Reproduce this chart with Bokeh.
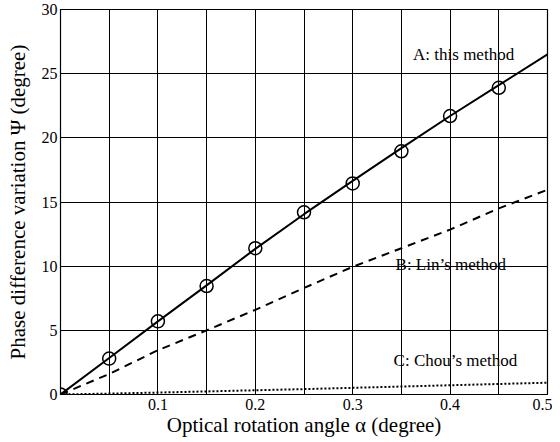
from bokeh.plotting import figure
from bokeh.models import Range1d, FixedTicker, Label
from bokeh.embed import file_html
from bokeh.resources import INLINE

# data
alpha_pts = [0.0, 0.05, 0.1, 0.15, 0.2, 0.25, 0.3, 0.35, 0.4, 0.45]
psi_a_pts = [0.0, 2.8, 5.7, 8.45, 11.4, 14.2, 16.45, 18.95, 21.7, 23.9]

alpha_line = [0.0, 0.05, 0.1, 0.15, 0.2, 0.25, 0.3, 0.35, 0.4, 0.45, 0.5]
psi_a_line = [0.0, 2.85, 5.7, 8.5, 11.35, 14.05, 16.65, 19.2, 21.7, 24.1, 26.5]
psi_b_line = [0.0, 1.6, 3.45, 5.0, 6.6, 8.3, 9.95, 11.4, 12.85, 14.5, 15.95]
psi_c_line = [0.0, 0.07, 0.15, 0.24, 0.33, 0.42, 0.52, 0.62, 0.72, 0.82, 0.92]

x_ticks = [0.1, 0.2, 0.3, 0.4, 0.5]
x_grid = [0.05, 0.1, 0.15, 0.2, 0.25, 0.3, 0.35, 0.4, 0.45]
y_ticks = [0, 5, 10, 15, 20, 25, 30]

label_a = "A: this method"
label_b = "B: Lin\u2019s method"
label_c = "C: Chou\u2019s method"

FONT = "Liberation Serif"

p = figure(width=552, height=440, output_backend="svg", toolbar_location=None,
           x_range=Range1d(0, 0.5), y_range=Range1d(0, 30))
p.min_border_left = 60
p.min_border_right = 5
p.min_border_top = 9
p.min_border_bottom = 46

p.outline_line_color = "black"
p.outline_line_width = 1.2

for ax in (p.xaxis[0], p.yaxis[0]):
    ax.major_label_text_font = FONT
    ax.major_label_text_font_size = "16px"
    ax.major_label_text_color = "black"
    ax.axis_label_text_font = FONT
    ax.axis_label_text_font_size = "21px"
    ax.axis_label_text_font_style = "normal"
    ax.axis_label_text_color = "black"
    ax.major_tick_out = 0
    ax.major_tick_in = 4
    ax.minor_tick_out = 0
    ax.minor_tick_in = 0
    ax.axis_line_color = "black"

p.xaxis.ticker = FixedTicker(ticks=x_ticks)
p.yaxis.ticker = FixedTicker(ticks=y_ticks)
p.xaxis.axis_label = "Optical rotation angle \u03b1 (degree)"
p.yaxis.axis_label = "Phase difference variation \u03a8 (degree)"
p.xaxis.major_label_standoff = 4
p.yaxis.major_label_standoff = 3
p.xaxis.axis_label_standoff = 0
p.yaxis.axis_label_standoff = 9

p.xgrid.ticker = FixedTicker(ticks=x_grid)
p.ygrid.ticker = FixedTicker(ticks=y_ticks)
for g in (p.xgrid[0], p.ygrid[0]):
    g.grid_line_color = "black"
    g.grid_line_width = 1
    g.grid_line_alpha = 1

p.line(alpha_line, psi_a_line, line_color="black", line_width=2)
p.line(alpha_line, psi_b_line, line_color="black", line_width=2, line_dash="8 6")
p.line(alpha_line, psi_c_line, line_color="black", line_width=2, line_dash="2 2")
p.scatter(alpha_pts, psi_a_pts, marker="circle", size=13, fill_color=None,
          line_color="black", line_width=1.5)

for txt, x, y in [(label_a, 0.362, 26.5), (label_b, 0.344, 10.1), (label_c, 0.342, 2.66)]:
    p.add_layout(Label(x=x, y=y, text=txt, text_font=FONT, text_font_size="17px",
                       text_color="black", text_baseline="middle", text_align="left"))

open("out.html", "w").write(file_html(p, INLINE))
